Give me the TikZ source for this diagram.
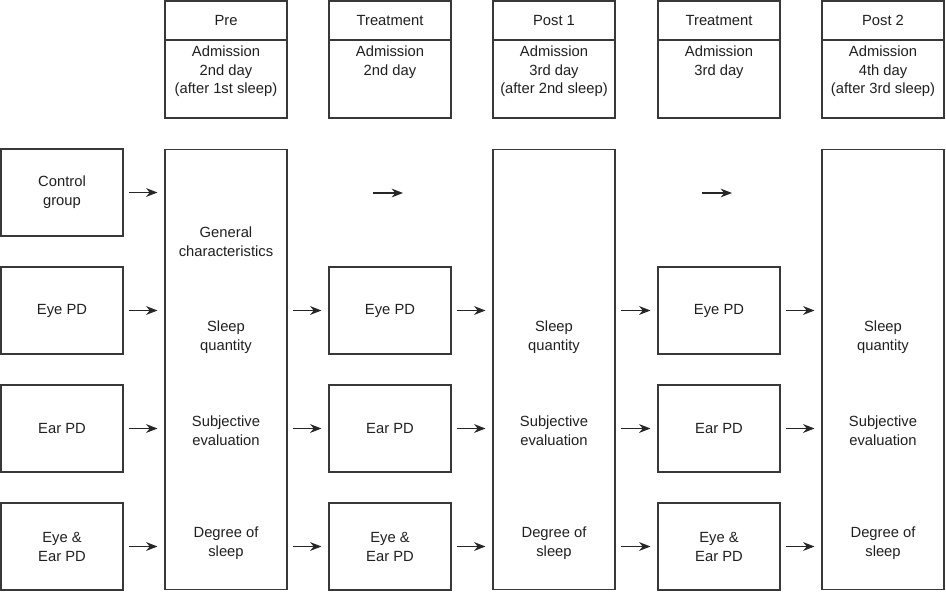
\documentclass[tikz,border=0pt]{standalone}
\usepackage{fontspec}
\setmainfont{Liberation Sans}
\usetikzlibrary{arrows.meta, positioning}

\tikzset{
  hdr/.style={draw=black!78, line width=0.6pt, minimum width=2.44cm, inner sep=0pt, align=center},
  grp/.style={hdr, minimum height=1.74cm},
  col/.style={hdr, minimum height=8.82cm},
  note/.style={align=center, inner sep=0pt},
  flow/.style={-{Stealth[length=6.5pt,width=5pt]}, line width=0.65pt, black!85,
    shorten <=0.11cm, shorten >=0.14cm}
}

\begin{document}
\begin{tikzpicture}[x=0.02cm, y=-0.02cm, font=\fontsize{8.4}{10.8}\selectfont, text=black!88]
		\useasboundingbox (0,0) rectangle (946,592);
		% Header boxes: phase name on top, day underneath
		\node[hdr, minimum height=0.78cm] (preH) at (226,20.5) {Pre};
		\node[hdr, minimum height=1.56cm] (preD) at (226,79) {};
		\node[note, below=0.11cm of preD.north] (preDt) {Admission\\2nd day\\(after 1st sleep)};
		\node[hdr, minimum height=0.78cm] (trAH) at (390,20.5) {Treatment};
		\node[hdr, minimum height=1.56cm] (trAD) at (390,79) {};
		\node[note, below=0.11cm of trAD.north] (trADt) {Admission\\2nd day};
		\node[hdr, minimum height=0.78cm] (postAH) at (554,20.5) {Post 1};
		\node[hdr, minimum height=1.56cm] (postAD) at (554,79) {};
		\node[note, below=0.11cm of postAD.north] (postADt) {Admission\\3rd day\\(after 2nd sleep)};
		\node[hdr, minimum height=0.78cm] (trBH) at (719,20.5) {Treatment};
		\node[hdr, minimum height=1.56cm] (trBD) at (719,79) {};
		\node[note, below=0.11cm of trBD.north] (trBDt) {Admission\\3rd day};
		\node[hdr, minimum height=0.78cm] (postBH) at (883,20.5) {Post 2};
		\node[hdr, minimum height=1.56cm] (postBD) at (883,79) {};
		\node[note, below=0.11cm of postBD.north] (postBDt) {Admission\\4th day\\(after 3rd sleep)};
		% Study groups
		\node[grp] (ctrl) at (62,192.5) {Control\\group};
		\node[grp] (eye) at (62,310.5) {Eye PD};
		\node[grp] (ear) at (62,428.5) {Ear PD};
		\node[grp] (both) at (62,546.5) {Eye \&\\Ear PD};
		% Measurement columns
		\node[col] (pre) at (226,369.5) {};
		\node[col] (postA) at (554,369.5) {};
		\node[col] (postB) at (883,369.5) {};
		\node[note] (preGen) at (226,241.5) {General\\characteristics};
		\node[note] (preSq) at (226,337) {Sleep\\quantity};
		\node[note] (preSe) at (226,430.5) {Subjective\\evaluation};
		\node[note] (preDs) at (226,543.5) {Degree of\\sleep};
		\node[note] (postASq) at (554,337) {Sleep\\quantity};
		\node[note] (postASe) at (554,430.5) {Subjective\\evaluation};
		\node[note] (postADs) at (554,543.5) {Degree of\\sleep};
		\node[note] (postBSq) at (883,337) {Sleep\\quantity};
		\node[note] (postBSe) at (883,430.5) {Subjective\\evaluation};
		\node[note] (postBDs) at (883,543.5) {Degree of\\sleep};
		% Treatment boxes
		\node[grp] (trAeye) at (390,310.5) {Eye PD};
		\node[grp] (trAear) at (390,428.5) {Ear PD};
		\node[grp] (trAboth) at (390,546.5) {Eye \&\\Ear PD};
		\node[grp] (trBeye) at (719,310.5) {Eye PD};
		\node[grp] (trBear) at (719,428.5) {Ear PD};
		\node[grp] (trBboth) at (719,546.5) {Eye \&\\Ear PD};
		% Control group gets no treatment
		\coordinate (ctrlA1) at (373,193);
		\coordinate (ctrlA2) at (403,193);
		\coordinate (ctrlB1) at (702,193);
		\coordinate (ctrlB2) at (732,193);
		% Arrows into Pre
		\draw[flow] (ctrl.east) -- (pre.west |- ctrl.east);
		\draw[flow] (eye.east) -- (pre.west |- eye.east);
		\draw[flow] (ear.east) -- (pre.west |- ear.east);
		\draw[flow] (both.east) -- (pre.west |- both.east);
		% Pre -> Treatment -> Post 1
		\draw[flow, shorten <=0pt, shorten >=0pt] (ctrlA1) -- (ctrlA2);
		\draw[flow] (pre.east |- trAeye) -- (trAeye.west);
		\draw[flow] (pre.east |- trAear) -- (trAear.west);
		\draw[flow] (pre.east |- trAboth) -- (trAboth.west);
		\draw[flow] (trAeye.east) -- (postA.west |- trAeye.east);
		\draw[flow] (trAear.east) -- (postA.west |- trAear.east);
		\draw[flow] (trAboth.east) -- (postA.west |- trAboth.east);
		% Post 1 -> Treatment -> Post 2
		\draw[flow, shorten <=0pt, shorten >=0pt] (ctrlB1) -- (ctrlB2);
		\draw[flow] (postA.east |- trBeye) -- (trBeye.west);
		\draw[flow] (postA.east |- trBear) -- (trBear.west);
		\draw[flow] (postA.east |- trBboth) -- (trBboth.west);
		\draw[flow] (trBeye.east) -- (postB.west |- trBeye.east);
		\draw[flow] (trBear.east) -- (postB.west |- trBear.east);
		\draw[flow] (trBboth.east) -- (postB.west |- trBboth.east);
	\end{tikzpicture}
\end{document}
